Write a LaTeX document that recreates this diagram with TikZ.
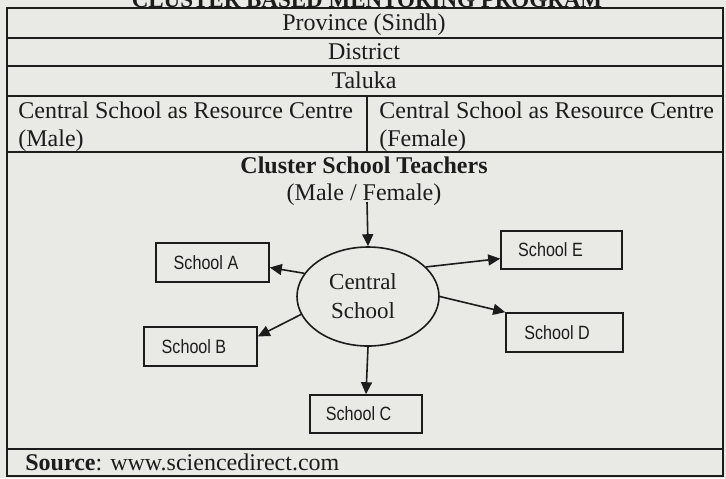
\documentclass[tikz,border=0pt]{standalone}
\usepackage{fontspec}
\usepackage{graphicx}
\setmainfont{Liberation Serif}
\newfontfamily\boxfont{Liberation Sans}
\usetikzlibrary{shapes.geometric,arrows.meta}
\definecolor{paper}{RGB}{233,233,230}
\definecolor{ink}{RGB}{28,28,28}
\newcommand\schoolname[2]{\scalebox{0.84}[1]{School #1}\kern#2pt}
\tikzset{
  frame/.style={draw=ink,line width=1pt},
  celltext/.style={inner sep=0pt,font=\fontsize{12}{14}\selectfont,text=ink},
  schoolbox/.style={draw=ink,line width=0.8pt,inner sep=0pt,font=\boxfont\fontsize{9.6}{11}\selectfont,text=ink},
  hub/.style={ellipse,draw=ink,line width=0.8pt,minimum width=71pt,minimum height=49.5pt,inner sep=0pt,align=center,font=\fontsize{11.5}{14.5}\selectfont,text=ink},
  link/.style={draw=ink,line width=0.8pt,-{Triangle[length=6pt,width=5.5pt]}},
}
\begin{document}
\begin{tikzpicture}[x=0.5pt,y=-0.5pt]
\useasboundingbox (0,0) rectangle (726,478);
\fill[paper] (0,0) rectangle (726,478);
% clipped title at the top
\begin{scope}
  \clip (0,0) rectangle (726,478);
  \node[anchor=base,inner sep=0pt,font=\fontsize{11.5}{13}\selectfont\bfseries,text=ink] (title) at (367,7) {CLUSTER BASED MENTORING PROGRAM};
\end{scope}
% table frame
\draw[frame] (7,8) rectangle (723,476);
\draw[frame] (7,38) -- (723,38);
\draw[frame] (7,66) -- (723,66);
\draw[frame] (7,96) -- (723,96);
\draw[frame] (7,152) -- (723,152);
\draw[frame] (7,449) -- (723,449);
\draw[frame] (367,96) -- (367,152);
% table texts
\node[celltext,anchor=base] (prov) at (364,30) {Province (Sindh)};
\node[celltext,anchor=base] (dist) at (364,59) {District};
\node[celltext,anchor=base] (tal) at (364,88) {Taluka};
\node[celltext,anchor=north west,align=left] (csm) at (18,101) {Central School as Resource Centre\\(Male)};
\node[celltext,anchor=north west,align=left] (csf) at (379,101) {Central School as Resource Centre\\(Female)};
\node[celltext,anchor=base,font=\fontsize{12}{14}\selectfont\bfseries] (cst) at (364,173) {Cluster School Teachers};
\node[celltext,anchor=base] (mf) at (364,200) {(Male / Female)};
\node[celltext,anchor=base west] (src) at (25,470) {\textbf{Source}: www.sciencedirect.com};
% cluster diagram
\node[hub] (cs) at (368,296.5) {Central\kern5pt\\School\kern5pt};
\node[schoolbox,minimum width=56.5pt,minimum height=19.5pt] (sa) at (212.5,262.5) {\schoolname{A}{6.5}};
\node[schoolbox,minimum width=56.5pt,minimum height=19.5pt] (sb) at (200.5,346.5) {\schoolname{B}{6.5}};
\node[schoolbox,minimum width=56pt,minimum height=19pt] (sc) at (366,414) {\schoolname{C}{7.5}};
\node[schoolbox,minimum width=58.5pt,minimum height=19.5pt] (sd) at (564.5,332.5) {\schoolname{D}{7.5}};
\node[schoolbox,minimum width=60.5pt,minimum height=19pt] (se) at (561.5,250) {\schoolname{E}{11}};
\coordinate (feed) at (367,202);
\draw[link] (feed) -- (cs.north);
\draw[link] (cs.160) -- (sa.-5);
\draw[link] (cs.195) -- (sb.10);
\draw[link] (cs.south) -- (sc.north);
\draw[link] (cs.east) -- (sd.north west);
\draw[link] (cs.27) -- (se.188);
\end{tikzpicture}
\end{document}
